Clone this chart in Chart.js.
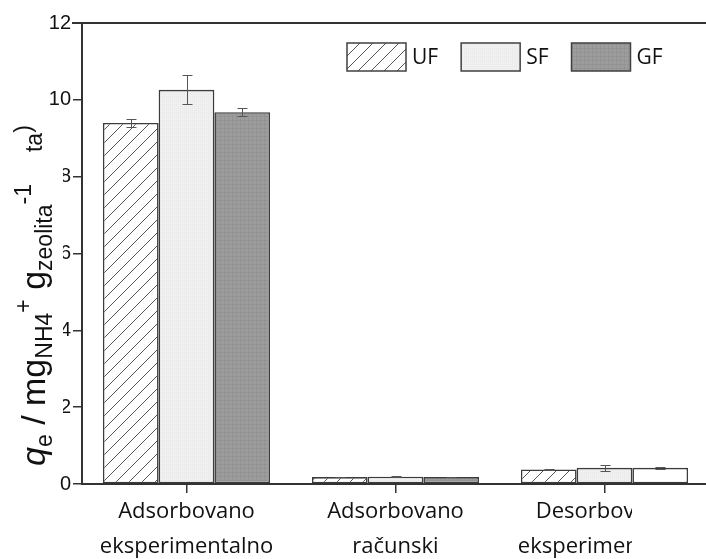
<!DOCTYPE html>
<html>
<head>
<meta charset="utf-8">
<script src="https://cdn.jsdelivr.net/npm/chart.js@4.4.0/dist/chart.umd.min.js"></script>
<style>
  html, body { margin: 0; padding: 0; background: #fff; overflow: hidden; }
  #wrap { width: 710px; height: 559px; }
</style>
</head>
<body>
<div id="wrap"><canvas id="myChart" width="710" height="559"></canvas></div>
<script>
// categories + series
var categories = [["Adsorbovano", "eksperimentalno"], ["Adsorbovano", "računski"], ["Desorbovano", "eksperimentalno"]];
var seriesNames = ["UF", "SF", "GF"];
var ufValues = [9.40, 0.18, 0.38];
var sfValues = [10.26, 0.19, 0.42];
var gfValues = [9.68, 0.18, 0.42];
var ufErrors = [0.10, 0.01, 0.02];
var sfErrors = [0.38, 0.01, 0.07];
var gfErrors = [0.10, 0.01, 0.03];
var yTicks = [0, 2, 4, 6, 8, 10, 12];

// y axis title pieces: text, font size, baseline shift
var yTitle = [
    {t: "q", size: 34, dy: 0, italic: true},
    {t: "e", size: 23, dy: 7},
    {t: " / mg", size: 34, dy: 0},
    {t: "NH4", size: 23, dy: 7},
    {t: "+", size: 23, dy: -14},
    {t: " g", size: 34, dy: 0},
    {t: "zeolita", size: 23, dy: 7},
    {t: "-1", size: 23, dy: -14},
    {t: "     ", size: 23, dy: 0},
    {t: "ta", size: 23, dy: -3},
    {t: ")", size: 23, dy: -14}
];

var lineColor = "#333";

function hatchPattern() {
    var c = document.createElement("canvas");
    c.width = 13; c.height = 13;
    var g = c.getContext("2d");
    g.fillStyle = "#fff";
    g.fillRect(0, 0, 13, 13);
    g.strokeStyle = "#555";
    g.lineWidth = 1;
    g.beginPath();
    g.moveTo(-1, 14); g.lineTo(14, -1);
    g.moveTo(-1, 1); g.lineTo(1, -1);
    g.moveTo(12, 14); g.lineTo(14, 12);
    g.stroke();
    return g.createPattern(c, "repeat");
}

function dotPattern(base, dot, step) {
    var c = document.createElement("canvas");
    c.width = step; c.height = step;
    var g = c.getContext("2d");
    g.fillStyle = base;
    g.fillRect(0, 0, step, step);
    g.fillStyle = dot;
    g.fillRect(0, 0, 1, step);
    g.fillRect(0, 0, step, 1);
    return g.createPattern(c, "repeat");
}

var ufFill = hatchPattern();
var sfFill = dotPattern("#f4f4f4", "#ececec", 2);
var gfFill = dotPattern("#9d9d9d", "#939393", 4);

var errorLists = [ufErrors, sfErrors, gfErrors];

var errorBars = {
    id: "errorBars",
    afterDatasetsDraw: function (chart) {
        var ctx = chart.ctx;
        var y = chart.scales.y;
        ctx.save();
        ctx.strokeStyle = "#555";
        ctx.lineWidth = 1;
        chart.data.datasets.forEach(function (ds, di) {
            var meta = chart.getDatasetMeta(di);
            meta.data.forEach(function (bar, i) {
                var v = ds.data[i], e = errorLists[di][i];
                var top = Math.round(y.getPixelForValue(v + e)) + 0.5;
                var bot = Math.round(y.getPixelForValue(v - e)) + 0.5;
                var x = Math.round(bar.x) + 0.5;
                ctx.beginPath();
                ctx.moveTo(x, top); ctx.lineTo(x, bot);
                ctx.moveTo(x - 5, top); ctx.lineTo(x + 5, top);
                ctx.moveTo(x - 5, bot); ctx.lineTo(x + 5, bot);
                ctx.stroke();
            });
        });
        ctx.restore();
    }
};

var decorations = {
    id: "decorations",
    afterDraw: function (chart) {
        var ctx = chart.ctx;
        var area = chart.chartArea;
        ctx.save();

        // top frame line
        ctx.strokeStyle = lineColor;
        ctx.lineWidth = 2;
        ctx.beginPath();
        ctx.moveTo(area.left - 10, area.top);
        ctx.lineTo(chart.width, area.top);
        ctx.stroke();

        // legend
        var lx = 347, ly = 43;
        ctx.font = "21px 'Open Sans'";
        ctx.textBaseline = "middle";
        chart.data.datasets.forEach(function (ds) {
            ctx.fillStyle = Array.isArray(ds.backgroundColor) ? ds.backgroundColor[0] : ds.backgroundColor;
            ctx.fillRect(lx, ly, 59, 28);
            ctx.strokeStyle = "#404040";
            ctx.lineWidth = 1.5;
            ctx.strokeRect(lx, ly, 59, 28);
            ctx.fillStyle = "#111";
            ctx.fillText(ds.label, lx + 65, ly + 15);
            lx += 65 + ctx.measureText(ds.label).width + 23;
        });

        // the y title sits on a white box that hides part of the tick labels
        ctx.fillStyle = "#fff";
        ctx.fillRect(0, 113, 63, 358);
        ctx.translate(45, 466);
        ctx.rotate(-Math.PI / 2);
        ctx.textBaseline = "alphabetic";
        ctx.fillStyle = "#111";
        var pos = 0;
        yTitle.forEach(function (p) {
            ctx.font = (p.italic ? "italic " : "") + p.size + "px 'Liberation Sans'";
            ctx.fillText(p.t, pos, p.dy);
            pos += ctx.measureText(p.t).width;
        });
        ctx.setTransform(1, 0, 0, 1, 0, 0);

        // right part of the bottom labels is cut off in the source
        ctx.fillStyle = "#fff";
        ctx.fillRect(632, 495, 100, 70);
        ctx.restore();
    }
};

var data = {
    labels: categories,
    datasets: [
        {label: seriesNames[0], data: ufValues, backgroundColor: ufFill},
        {label: seriesNames[1], data: sfValues, backgroundColor: sfFill},
        {label: seriesNames[2], data: gfValues, backgroundColor: [gfFill, gfFill, "#ffffff"]}
    ]
};
data.datasets.forEach(function (ds) {
    ds.borderColor = "#3c3c3c";
    ds.borderWidth = 1.6;
    ds.borderSkipped = false;
    ds.barPercentage = 1.0;
    ds.categoryPercentage = 0.8;
});

var ctx = document.getElementById("myChart").getContext("2d");
var myBarChart = new Chart(ctx, {
    type: "bar",
    data: data,
    options: {
        responsive: false,
        animation: false,
        layout: {padding: {top: 23, right: 1, left: 0, bottom: 0}},
        plugins: {legend: {display: false}, tooltip: {enabled: false}},
        scales: {
            x: {
                afterFit: function (s) { s.height = 75; },
                grid: {display: true, drawOnChartArea: false, drawTicks: true, tickLength: 9, offset: false, color: lineColor, lineWidth: 1.5},
                border: {color: lineColor, width: 2},
                ticks: {color: "#111", font: {family: "'Open Sans'", size: 22, lineHeight: 1.6}, padding: 1, maxRotation: 0, autoSkip: false}
            },
            y: {
                min: 0,
                max: 12,
                afterFit: function (s) { s.width = 82; },
                afterBuildTicks: function (s) { s.ticks = yTicks.map(function (v) { return {value: v}; }); },
                grid: {display: true, drawOnChartArea: false, drawTicks: true, tickLength: 9, color: lineColor, lineWidth: 1.5},
                border: {color: lineColor, width: 2},
                ticks: {color: "#111", font: {family: "'Liberation Sans'", size: 20}, padding: 2}
            }
        }
    },
    plugins: [errorBars, decorations]
});
</script>
</body>
</html>
